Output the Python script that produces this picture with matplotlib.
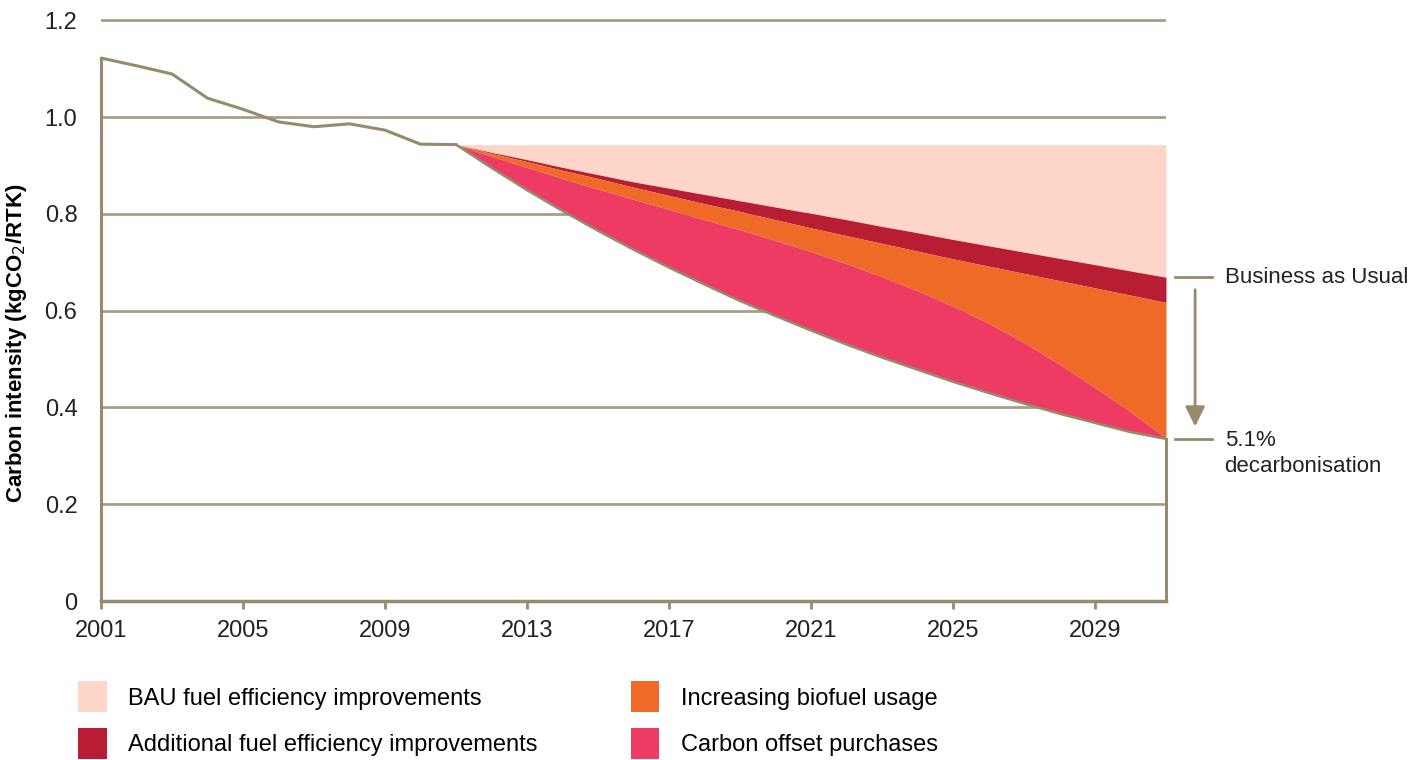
import matplotlib
matplotlib.use("Agg")
import matplotlib.pyplot as plt
from matplotlib.patches import Patch

plt.rcParams["font.family"] = ["Liberation Sans", "DejaVu Sans"]

# historical carbon intensity
lata_hist = [2001, 2002, 2003, 2004, 2005, 2006, 2007, 2008, 2009, 2010, 2011]
wart_hist = [1.122, 1.106, 1.089, 1.039, 1.016, 0.990, 0.980, 0.986, 0.973, 0.944, 0.943]

# projections 2011-2031
lata_proj = list(range(2011, 2032))
poziom_start = [0.943] * 21
bau = [0.943, 0.927, 0.912, 0.896, 0.881, 0.866, 0.853, 0.840, 0.827, 0.814, 0.801,
       0.788, 0.774, 0.761, 0.747, 0.734, 0.721, 0.708, 0.695, 0.682, 0.669]
dodatkowe = [0.943, 0.925, 0.908, 0.890, 0.873, 0.855, 0.838, 0.821, 0.805, 0.788, 0.771,
             0.755, 0.739, 0.723, 0.707, 0.692, 0.677, 0.662, 0.647, 0.632, 0.617]
biopaliwa = [0.943, 0.919, 0.896, 0.873, 0.851, 0.830, 0.809, 0.788, 0.767, 0.745, 0.722,
             0.697, 0.670, 0.641, 0.609, 0.574, 0.534, 0.489, 0.441, 0.391, 0.337]
cel = [0.943, 0.895, 0.849, 0.806, 0.765, 0.726, 0.689, 0.654, 0.620, 0.589, 0.559,
       0.530, 0.503, 0.478, 0.453, 0.430, 0.408, 0.387, 0.368, 0.349, 0.335]

etykiety = ["BAU fuel efficiency improvements", "Additional fuel efficiency improvements",
            "Increasing biofuel usage", "Carbon offset purchases"]
kolory = ["#fdd5c9", "#b81d33", "#ef6a27", "#ee3b64"]
ticki_x = [2001, 2005, 2009, 2013, 2017, 2021, 2025, 2029]
ticki_y = [0, 0.2, 0.4, 0.6, 0.8, 1.0, 1.2]
ticki_y_lab = ["0", "0.2", "0.4", "0.6", "0.8", "1.0", "1.2"]

linia = "#968b6c"
siatka = "#a79f88"

fig = plt.figure(figsize=(14.19, 7.60), dpi=100)
ax = fig.add_axes([0.0712, 0.2092, 0.7505, 0.7705])

for y in ticki_y[1:]:
    ax.axhline(y, color=siatka, linewidth=2, zorder=1)

ax.fill_between(lata_proj, bau, poziom_start, color=kolory[0], linewidth=0, zorder=2)
ax.fill_between(lata_proj, dodatkowe, bau, color=kolory[1], linewidth=0, zorder=2)
ax.fill_between(lata_proj, biopaliwa, dodatkowe, color=kolory[2], linewidth=0, zorder=2)
ax.fill_between(lata_proj, cel, biopaliwa, color=kolory[3], linewidth=0, zorder=2)

ax.plot(lata_hist, wart_hist, color=linia, linewidth=2.2, zorder=3)
ax.plot(lata_proj, cel, color=linia, linewidth=1.8, zorder=3)
ax.plot([lata_proj[-1], lata_proj[-1]], [0, cel[-1]], color=linia, linewidth=2.2,
        zorder=3, clip_on=False)
ax.plot([lata_hist[0], lata_hist[0]], [0, wart_hist[0]], color=linia, linewidth=2.2,
        zorder=3, clip_on=False)

ax.set_xlim(2001, 2031)
ax.set_ylim(0, 1.21)
ax.set_xticks(ticki_x)
ax.set_yticks(ticki_y)
ax.set_yticklabels(ticki_y_lab)
ax.tick_params(axis="x", direction="out", length=6, width=2, color=linia,
               labelsize=17, labelcolor="#222222", pad=8)
ax.tick_params(axis="y", length=0, labelsize=17, labelcolor="#222222", pad=17)
for s in ["top", "right", "left"]:
    ax.spines[s].set_visible(False)
ax.spines["bottom"].set_color(linia)
ax.spines["bottom"].set_linewidth(2.5)
ax.set_ylabel("Carbon intensity (kgCO$_2$/RTK)", fontsize=16, fontweight="bold")
ax.yaxis.set_label_coords(-0.068, 0.44)

# annotations on the right
x0 = lata_proj[-1]
ax.plot([x0 + 0.25, x0 + 1.3], [bau[-1], bau[-1]], color=linia, linewidth=2, clip_on=False)
ax.plot([x0 + 0.25, x0 + 1.3], [cel[-1], cel[-1]], color=linia, linewidth=2, clip_on=False)
ax.text(x0 + 1.65, bau[-1], "Business as Usual", fontsize=16, color="#222222",
        va="center", ha="left")
ax.text(x0 + 1.65, cel[-1] + 0.019, "5.1%\ndecarbonisation", fontsize=16, color="#222222",
        va="top", ha="left", linespacing=1.35)
ax.annotate("", xy=(x0 + 0.82, cel[-1] + 0.02), xytext=(x0 + 0.82, bau[-1] - 0.02),
            arrowprops=dict(arrowstyle="-|>", color=linia, lw=2, mutation_scale=30),
            annotation_clip=False)

uchwyty = [Patch(facecolor=k, edgecolor="none") for k in kolory]
fig.legend(uchwyty, etykiety, ncol=2, frameon=False, fontsize=17,
           loc="upper left", bbox_to_anchor=(0.047, 0.119),
           handlelength=1.19, handleheight=1.64, handletextpad=0.9,
           labelspacing=0.67, columnspacing=3.98, borderpad=0)

fig.savefig("out.png", dpi=100)
